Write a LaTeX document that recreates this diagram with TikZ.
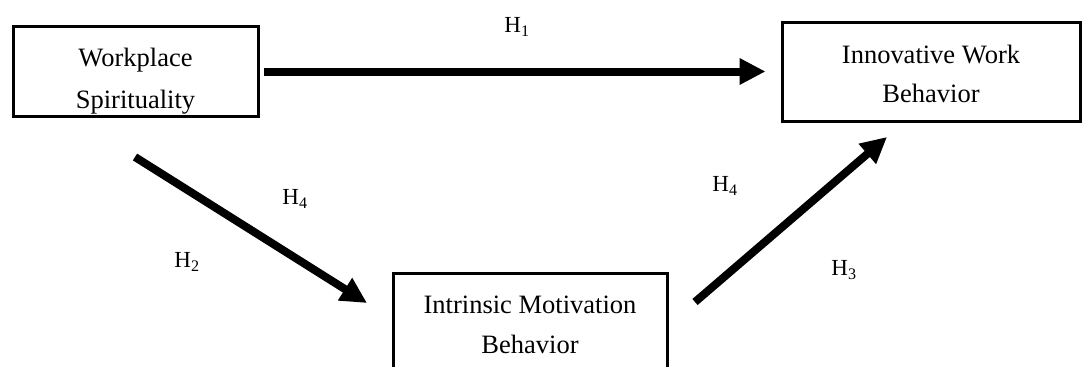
\documentclass[tikz,border=0pt]{standalone}
\usepackage{fontspec}
\setmainfont{Liberation Serif}
\usetikzlibrary{arrows.meta}
\newcommand{\boxtext}[3]{\raisebox{#1}[0pt][0pt]{\fontsize{26.5}{#2}\selectfont\begin{tabular}[t]{@{}c@{}}#3\end{tabular}}}
\begin{document}
\begin{tikzpicture}[x=1pt,y=-1pt,
  box/.style={draw=black,line width=3pt,fill=white,inner sep=0pt},
  arr/.style={line width=8pt,-{Triangle[length=26pt,width=25pt]}},
  hyp/.style={font=\fontsize{23}{26}\selectfont,inner sep=0pt}]
\useasboundingbox (0,0) rectangle (1088,367);
\node[box,minimum width=245pt,minimum height=90pt] (wp) at (135.5,71.5) {\boxtext{5.5pt}{42}{Workplace\\Spirituality}};
\node[box,minimum width=298pt,minimum height=99pt] (iwb) at (931,71.5) {\boxtext{8.5pt}{39}{Innovative Work\\Behavior}};
\node[box,minimum width=274pt,minimum height=100pt] (imb) at (530,323) {\boxtext{10pt}{40}{Intrinsic Motivation\\Behavior}};
\coordinate (d1s) at (135,157);
\coordinate (d1e) at (367,303);
\coordinate (d2s) at (695,302);
\coordinate (d2e) at (887,137);
\draw[arr,shorten <=4pt,shorten >=15pt] (wp.east) -- (iwb.west);
\draw[arr] (d1s) -- (d1e);
\draw[arr] (d2s) -- (d2e);
\node[hyp] (h1) at (517,27) {H\textsubscript{1}};
\node[hyp] (h4a) at (295,199) {H\textsubscript{4}};
\node[hyp] (h2) at (187,262) {H\textsubscript{2}};
\node[hyp] (h4b) at (725,186) {H\textsubscript{4}};
\node[hyp] (h3) at (844,270) {H\textsubscript{3}};
\end{tikzpicture}
\end{document}
